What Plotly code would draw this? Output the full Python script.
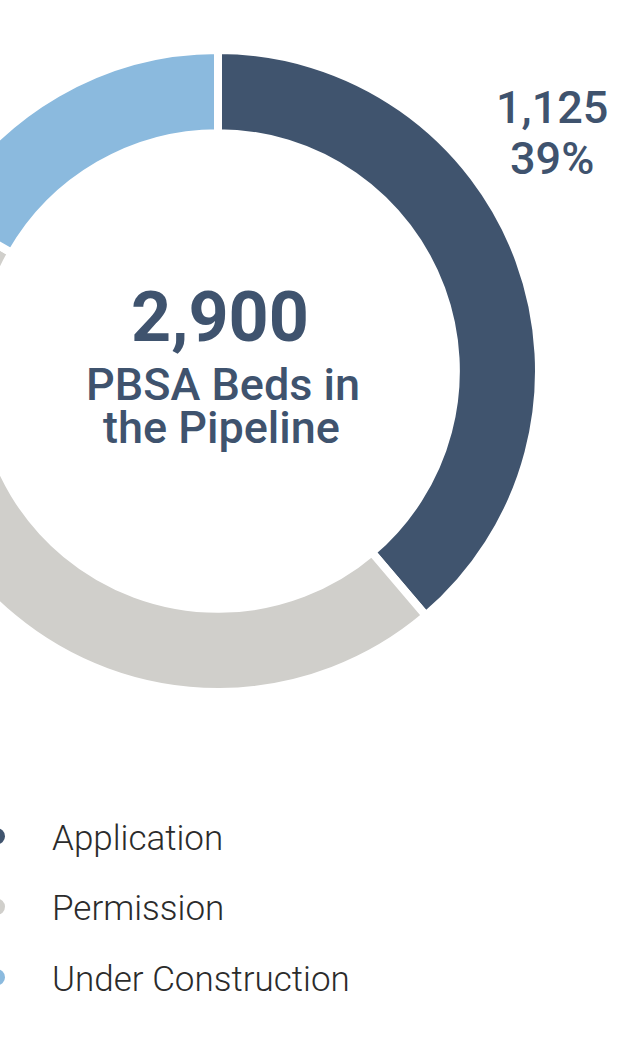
import plotly.graph_objects as go

# ---- data ----
categories = ["Application", "Permission", "Under Construction"]
beds = [1125, 1290, 485]
colors = ["#40546E", "#D0CFCB", "#8BBADE"]
total_label = "2,900"
center_lines = ["PBSA Beds in", "the Pipeline"]
callout_value = "1,125"
callout_pct = "39%"

# ---- layout geometry (page px) ----
OFF = 120            # figure shifted left by this many px (donut is cut off on the left)
W, H = 619 + OFF, 1054
CX, CY, R = 218 + OFF, 371, 321
NAVY = "#3F536E"

fig = go.Figure()
fig.add_trace(go.Pie(
    labels=categories, values=beds, sort=False, direction="clockwise", rotation=0,
    hole=0.741, marker=dict(colors=colors, line=dict(color="white", width=8)),
    textinfo="none", hoverinfo="label+value+percent", showlegend=False,
    domain=dict(x=[(CX - R) / W, (CX + R) / W], y=[(H - CY - R) / H, (H - CY + R) / H]),
))

# legend entries (circle markers)
for i, (c, col) in enumerate(zip(categories, colors)):
    fig.add_trace(go.Scatter(x=[None], y=[None], mode="markers", name=c,
                             legendgroup=c,
                             marker=dict(color=col, size=16, symbol="circle")))


def px(x):
    return (x + OFF) / W


def py(y):
    return (H - y) / H


ann = [
    dict(text=total_label, x=px(220), y=py(317), font=dict(size=70, color=NAVY, family="Roboto", weight=700)),
    dict(text=center_lines[0], x=px(223), y=py(385), font=dict(size=45, color=NAVY, family="Roboto", weight=500)),
    dict(text=center_lines[1], x=px(221), y=py(427), font=dict(size=45, color=NAVY, family="Roboto", weight=500)),
    dict(text=callout_value, x=px(552), y=py(108), font=dict(size=45, color=NAVY, family="Roboto", weight=500)),
    dict(text=callout_pct, x=px(552), y=py(158), font=dict(size=45, color=NAVY, family="Roboto", weight=500)),
]
for a in ann:
    a.update(xref="paper", yref="paper", showarrow=False, xanchor="center", yanchor="middle")

fig.update_layout(
    width=W, height=H, margin=dict(l=0, r=0, t=0, b=0),
    paper_bgcolor="white", plot_bgcolor="white",
    xaxis=dict(visible=False), yaxis=dict(visible=False),
    annotations=ann,
    legend=dict(x=px(53 - 111), y=py(807), xanchor="left", yanchor="top",
                font=dict(size=35, color="#2B2B2B", family="Roboto", weight=300),
                itemwidth=100, tracegroupgap=22, bgcolor="rgba(0,0,0,0)"),
)

post = ("document.body.style.margin='0';document.body.style.overflow='hidden';"
        "var d=document.getElementById('{plot_id}');d.style.position='absolute';"
        "d.style.left='-" + str(OFF) + "px';d.style.top='0px';")
fig.write_html("out.html", post_script=post, config={"displayModeBar": False})
